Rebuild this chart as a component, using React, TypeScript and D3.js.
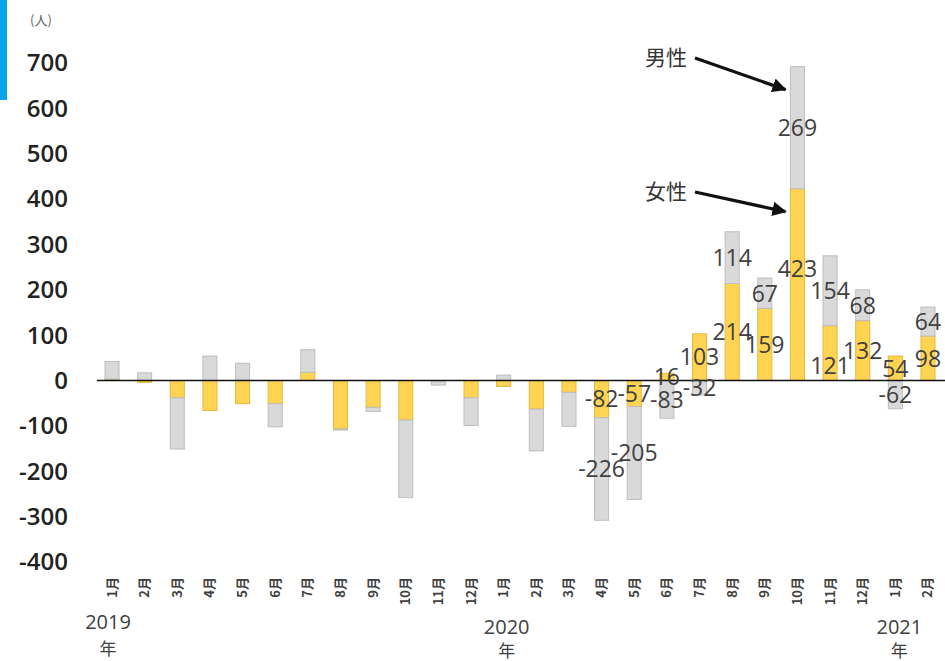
import React from "react";
import * as d3 from "d3";

const months: string[] = [
  "1月","2月","3月","4月","5月","6月","7月","8月","9月","10月","11月","12月",
  "1月","2月","3月","4月","5月","6月","7月","8月","9月","10月","11月","12月",
  "1月","2月",
];
const female: number[] = [3, -4, -38, -66, -51, -51, 18, -107, -59, -87, -1, -38,
  -13, -63, -26, -82, -57, 16, 103, 214, 159, 423, 121, 132, 54, 98];
const male: number[] = [39, 17, -113, 54, 38, -51, 50, -2, -9, -171, -9, -61,
  12, -92, -75, -226, -205, -83, -32, 114, 67, 269, 154, 68, -62, 64];
const labelFrom = 15; // data labels shown from 2020年4月
const yTicks: number[] = [700, 600, 500, 400, 300, 200, 100, 0, -100, -200, -300, -400];
const years: { index: number; label: string }[] = [
  { index: 0, label: "2019" },
  { index: 12, label: "2020" },
  { index: 24, label: "2021" },
];
const annotations: { text: string; series: "male" | "female"; index: number }[] = [
  { text: "男性", series: "male", index: 21 },
  { text: "女性", series: "female", index: 21 },
];

const W = 945, H = 661;
const YELLOW = "#FFD452", YELLOW_S = "#E8B73A";
const GRAY = "#D9D9D9", GRAY_S = "#BDBDBD";
const TXT = "#404040";
const NUM_FONT = "'Open Sans', 'Noto Sans', sans-serif";
const JP_FONT = "'Noto Sans CJK JP', 'Noto Sans', sans-serif";
// manual label nudges (px), as moved by hand in the original
const labelNudge: Record<string, number> = { "female21": -16, "female22": 13 };
const yearDx: number[] = [-4, 3, 4];
const yearY: number[][] = [[629, 655], [634, 657], [634, 657]];

export default function App() {
  const idx = months.map((_, i) => i);
  const x = d3.scaleBand<number>().domain(idx).range([95.7, 944.3]).paddingInner(0.57).paddingOuter(0.285);
  const y = d3.scaleLinear().domain([-400, 700]).range([562, 63]);
  const rows = idx.map((i) => ({ i, female: female[i], male: male[i] }));
  const stack = d3.stack<any>().keys(["female", "male"]).offset(d3.stackOffsetDiverging);
  const series = stack(rows);
  const bw = x.bandwidth();
  const cx = (i: number) => (x(i) as number) + bw / 2;

  return (
    <svg width={W} height={H} style={{ position: "absolute", left: 0, top: 0, background: "#fff" }}>
      <defs>
        <marker id="ah" viewBox="0 0 10 10" refX="9" refY="5" markerWidth="4.5" markerHeight="4.5" orient="auto">
          <path d="M0,0 L10,5 L0,10 z" fill="#111" />
        </marker>
      </defs>
      <rect x={0} y={0} width={7} height={100} fill="#0BA5EC" />
      <text x={30} y={25} fontSize={13} fill="#666" fontFamily={JP_FONT}>(人)</text>

      {yTicks.map((t) => (
        <text key={t} x={68} y={y(t)} dy="0.35em" textAnchor="end" fontSize={24} fontWeight={600}
          fill="#222" fontFamily={NUM_FONT}>{t}</text>
      ))}

      {series.map((s) => (
        <g key={s.key}>
          {s.map((d, i) => {
            const y0 = y(d[0]), y1 = y(d[1]);
            const top = Math.min(y0, y1), h = Math.abs(y1 - y0);
            if (h < 0.01) return null;
            const isF = s.key === "female";
            return (
              <rect key={i} x={x(i)} y={top} width={bw} height={h}
                fill={isF ? YELLOW : GRAY} stroke={isF ? YELLOW_S : GRAY_S} strokeWidth={1} />
            );
          })}
        </g>
      ))}

      <line x1={97} x2={945} y1={y(0)} y2={y(0)} stroke="#111" strokeWidth={1.6} />

      {series.map((s) =>
        s.map((d, i) => {
          if (i < labelFrom) return null;
          const v = s.key === "female" ? female[i] : male[i];
          const ym = y((d[0] + d[1]) / 2) + (labelNudge[s.key + i] || 0);
          return (
            <text key={s.key + i} x={cx(i)} y={ym} dy="0.36em" textAnchor="middle" fontSize={23}
              fill={TXT} fontFamily={NUM_FONT}>{v}</text>
          );
        })
      )}

      {months.map((m, i) => (
        <text key={"m" + i} transform={`translate(${cx(i) + 4.5},577) rotate(-90)`} textAnchor="end"
          fontSize={13} fontWeight={700} fill={TXT} fontFamily={JP_FONT}>{m}</text>
      ))}

      {years.map((yr, k) => (
        <g key={yr.label}>
          <text x={cx(yr.index) + yearDx[k]} y={yearY[k][0]} textAnchor="middle" fontSize={20}
            fill={TXT} fontFamily={NUM_FONT}>{yr.label}</text>
          <text x={cx(yr.index) + yearDx[k]} y={yearY[k][1]} textAnchor="middle" fontSize={17}
            fill={TXT} fontFamily={JP_FONT}>年</text>
        </g>
      ))}

      {annotations.map((a) => {
        const s = series.find((q) => q.key === a.series)!;
        const d = s[a.index];
        const ty = y(d[1]) + 23;
        const tx = cx(a.index) - 12;
        const ly = a.series === "male" ? 58 : 192;
        return (
          <g key={a.text}>
            <text x={666} y={ly} dy="0.35em" textAnchor="middle" fontSize={21} fill="#333" fontFamily={JP_FONT}>{a.text}</text>
            <line x1={695} y1={ly} x2={tx} y2={ty} stroke="#111" strokeWidth={3.2} markerEnd="url(#ah)" />
          </g>
        );
      })}
    </svg>
  );
}
